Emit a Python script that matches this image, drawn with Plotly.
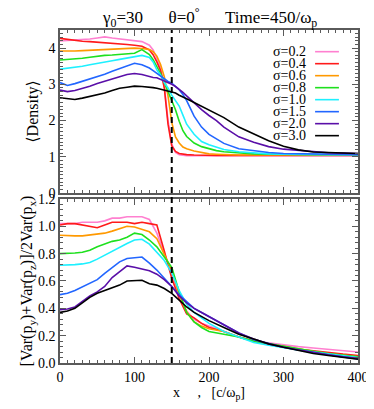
import plotly.graph_objects as go
from plotly.subplots import make_subplots

# sigma values and line colours
sigmas = ["0.2", "0.4", "0.6", "0.8", "1.0", "1.5", "2.0", "3.0"]
colors = ["#ff80d0", "#ff1a1a", "#ff9900", "#1ee01e", "#1ef0ff", "#2266ff", "#5a0fa8", "#000000"]

# top panel: <Density> vs x
x_top = [0, 10, 20, 30, 40, 50, 60, 70, 80, 90, 100, 110, 120, 125, 130, 135, 140, 145,
         150, 155, 160, 165, 170, 180, 190, 200, 210, 220, 240, 260, 280, 300, 320, 340,
         360, 380, 400]
dens_02 = [4.20, 4.21, 4.23, 4.22, 4.25, 4.28, 4.31, 4.28, 4.26, 4.24, 4.22, 4.18, 4.08, 3.95,
           3.72, 3.45, 2.95, 2.00, 1.35, 1.12, 1.06, 1.04, 1.03, 1.03, 1.03, 1.03, 1.03, 1.03,
           1.03, 1.03, 1.03, 1.03, 1.03, 1.03, 1.03, 1.03, 1.03]
dens_04 = [4.27, 4.24, 4.22, 4.19, 4.18, 4.16, 4.14, 4.13, 4.11, 4.10, 4.08, 4.05, 3.95, 3.82,
           3.62, 3.38, 2.90, 1.90, 1.30, 1.15, 1.09, 1.07, 1.06, 1.05, 1.04, 1.04, 1.04, 1.04,
           1.04, 1.04, 1.04, 1.04, 1.04, 1.04, 1.04, 1.04, 1.04]
dens_06 = [3.92, 3.91, 3.92, 3.93, 3.94, 3.95, 3.96, 3.97, 3.98, 3.99, 4.00, 3.99, 3.96, 3.90,
           3.78, 3.55, 3.21, 2.68, 1.95, 1.55, 1.38, 1.27, 1.22, 1.16, 1.11, 1.08, 1.07, 1.06,
           1.05, 1.05, 1.05, 1.05, 1.05, 1.05, 1.05, 1.05, 1.05]
dens_08 = [3.67, 3.68, 3.70, 3.72, 3.75, 3.78, 3.80, 3.81, 3.83, 3.84, 3.86, 3.96, 3.82, 3.68,
           3.50, 3.30, 3.05, 2.80, 2.60, 2.30, 1.98, 1.72, 1.56, 1.38, 1.28, 1.22, 1.17, 1.14,
           1.10, 1.08, 1.07, 1.06, 1.06, 1.06, 1.06, 1.06, 1.06]
dens_10 = [3.42, 3.44, 3.47, 3.50, 3.54, 3.57, 3.61, 3.65, 3.69, 3.73, 3.76, 3.80, 3.74, 3.62,
           3.40, 3.25, 3.05, 2.90, 2.70, 2.55, 2.40, 2.15, 1.90, 1.62, 1.42, 1.33, 1.26, 1.20,
           1.14, 1.10, 1.08, 1.07, 1.06, 1.06, 1.06, 1.06, 1.06]
dens_15 = [3.05, 2.97, 3.02, 3.08, 3.14, 3.21, 3.28, 3.36, 3.44, 3.51, 3.58, 3.54, 3.45, 3.38,
           3.30, 3.22, 3.15, 3.08, 3.03, 2.95, 2.85, 2.72, 2.55, 2.12, 1.82, 1.62, 1.50, 1.37,
           1.22, 1.16, 1.12, 1.09, 1.08, 1.07, 1.07, 1.06, 1.06]
dens_20 = [2.84, 2.80, 2.83, 2.88, 2.95, 3.02, 3.09, 3.15, 3.21, 3.27, 3.30, 3.27, 3.21, 3.19,
           3.18, 3.14, 3.10, 3.05, 3.00, 2.94, 2.87, 2.78, 2.68, 2.48, 2.30, 2.14, 2.00, 1.82,
           1.55, 1.40, 1.28, 1.21, 1.17, 1.13, 1.11, 1.10, 1.09]
dens_30 = [2.63, 2.60, 2.58, 2.62, 2.66, 2.70, 2.76, 2.83, 2.89, 2.92, 2.95, 2.94, 2.93, 2.91,
           2.89, 2.86, 2.84, 2.81, 2.79, 2.76, 2.70, 2.66, 2.60, 2.50, 2.40, 2.30, 2.20, 2.08,
           1.82, 1.62, 1.44, 1.29, 1.19, 1.13, 1.11, 1.10, 1.09]

# bottom panel: [Var(py)+Var(pz)]/2Var(px) vs x
x_bot = [0, 10, 20, 30, 40, 50, 60, 70, 80, 90, 100, 110, 120, 130, 140, 150, 160, 170, 180,
         190, 200, 220, 240, 260, 280, 300, 320, 340, 360, 380, 400]
anis_02 = [1.02, 1.02, 1.02, 1.03, 1.03, 1.03, 1.04, 1.06, 1.06, 1.07, 1.07, 1.07, 1.05, 0.95,
           0.80, 0.65, 0.48, 0.38, 0.32, 0.29, 0.27, 0.23, 0.19, 0.16, 0.145, 0.13, 0.12, 0.11,
           0.10, 0.09, 0.08]
anis_04 = [1.01, 1.02, 1.02, 1.01, 1.00, 0.99, 1.01, 1.03, 1.03, 1.03, 1.02, 1.03, 1.02, 1.01,
           0.82, 0.62, 0.47, 0.36, 0.33, 0.29, 0.26, 0.23, 0.19, 0.16, 0.14, 0.12, 0.10, 0.09,
           0.075, 0.065, 0.055]
anis_06 = [0.935, 0.93, 0.93, 0.93, 0.935, 0.94, 0.95, 0.965, 0.98, 1.00, 0.995, 0.975, 0.96,
           0.91, 0.80, 0.68, 0.50, 0.375, 0.30, 0.27, 0.25, 0.23, 0.19, 0.16, 0.14, 0.12, 0.10,
           0.085, 0.07, 0.055, 0.045]
anis_08 = [0.80, 0.80, 0.805, 0.81, 0.825, 0.85, 0.87, 0.89, 0.90, 0.92, 0.95, 0.94, 0.90, 0.85,
           0.775, 0.70, 0.52, 0.37, 0.30, 0.26, 0.23, 0.21, 0.19, 0.16, 0.14, 0.12, 0.10, 0.085,
           0.07, 0.055, 0.045]
anis_10 = [0.715, 0.715, 0.72, 0.725, 0.735, 0.76, 0.79, 0.82, 0.85, 0.875, 0.90, 0.905, 0.87,
           0.81, 0.75, 0.66, 0.53, 0.43, 0.37, 0.33, 0.29, 0.23, 0.19, 0.15, 0.13, 0.11, 0.095,
           0.08, 0.065, 0.05, 0.04]
anis_15 = [0.50, 0.51, 0.53, 0.555, 0.58, 0.61, 0.655, 0.70, 0.74, 0.765, 0.77, 0.775, 0.73,
           0.68, 0.62, 0.56, 0.50, 0.45, 0.40, 0.37, 0.34, 0.28, 0.22, 0.17, 0.14, 0.115, 0.095,
           0.075, 0.06, 0.045, 0.03]
anis_20 = [0.39, 0.395, 0.41, 0.45, 0.49, 0.52, 0.56, 0.625, 0.67, 0.71, 0.70, 0.69, 0.675,
           0.65, 0.61, 0.56, 0.49, 0.44, 0.40, 0.37, 0.34, 0.28, 0.22, 0.175, 0.14, 0.115, 0.095,
           0.075, 0.06, 0.045, 0.035]
anis_30 = [0.37, 0.38, 0.40, 0.44, 0.48, 0.51, 0.53, 0.555, 0.57, 0.60, 0.605, 0.605, 0.58,
           0.57, 0.545, 0.51, 0.46, 0.41, 0.37, 0.34, 0.31, 0.26, 0.21, 0.175, 0.14, 0.115,
           0.09, 0.07, 0.055, 0.04, 0.027]

dens_all = [dens_02, dens_04, dens_06, dens_08, dens_10, dens_15, dens_20, dens_30]
anis_all = [anis_02, anis_04, anis_06, anis_08, anis_10, anis_15, anis_20, anis_30]

FONT = "Liberation Serif, Times New Roman, DejaVu Serif, serif"
AXC = "#5a5a5a"

fig = make_subplots(rows=2, cols=1, shared_xaxes=True)

for s, c, d, a in zip(sigmas, colors, dens_all, anis_all):
    fig.add_trace(go.Scatter(x=x_top, y=d, mode="lines", line=dict(color=c, width=1.6),
                             name="σ=" + s), row=1, col=1)
    fig.add_trace(go.Scatter(x=x_bot, y=a, mode="lines", line=dict(color=c, width=1.6),
                             name="σ=" + s, showlegend=False), row=2, col=1)

axis_common = dict(showline=True, linecolor=AXC, linewidth=1.5, mirror="allticks",
                   ticks="inside", ticklen=6, tickcolor=AXC, showgrid=False, zeroline=False,
                   automargin=False,
                   tickfont=dict(family=FONT, size=14, color="black"))

fig.update_xaxes(range=[0, 400], dtick=100,
                 minor=dict(dtick=10, ticks="inside", ticklen=3, tickcolor=AXC),
                 **axis_common)
fig.update_xaxes(showticklabels=False, row=1, col=1)
fig.update_xaxes(title=dict(text="x\u2003 ,\u2002 [c/ω<sub>p</sub>]",
                            font=dict(family=FONT, size=14), standoff=4), row=2, col=1)

fig.update_yaxes(range=[0, 4.5], dtick=1,
                 minor=dict(dtick=0.1, ticks="inside", ticklen=3, tickcolor=AXC),
                 title=dict(text="⟨Density⟩", font=dict(family=FONT, size=16), standoff=6),
                 row=1, col=1, **axis_common)
fig.update_yaxes(range=[0, 1.2], dtick=0.2, tickformat=".1f",
                 minor=dict(dtick=0.04, ticks="inside", ticklen=3, tickcolor=AXC),
                 title=dict(text="[Var(p<sub>y</sub>)+Var(p<sub>z</sub>)]/2Var(p<sub>x</sub>)",
                            font=dict(family=FONT, size=16), standoff=1),
                 row=2, col=1, **axis_common)

# page body adds ~8px offset, so the figure is a bit smaller than the window
fig.update_layout(
    width=366, height=401,
    margin=dict(l=52, r=16, t=22, b=46),
    paper_bgcolor="white", plot_bgcolor="white",
    showlegend=False,
    font=dict(family=FONT, size=14, color="black"),
    xaxis=dict(domain=[0, 1]), xaxis2=dict(domain=[0, 1]),
    yaxis=dict(domain=[0.5105, 1.0]), yaxis2=dict(domain=[0.0, 0.4925]),
)

# title
fig.add_annotation(text="γ<sub>0</sub>=30\u2003\u2002θ=0<sup>°</sup>\u2003\u2002Time=450/ω<sub>p</sub>",
                   xref="paper", yref="paper", x=0.5, y=1.0, yshift=13,
                   xanchor="center", yanchor="middle", showarrow=False,
                   font=dict(family=FONT, size=17))

# dashed line at x=150 across both panels
fig.add_shape(type="line", xref="x", yref="paper", x0=150, x1=150, y0=0, y1=1,
              line=dict(color="black", width=2, dash="6px,4px"))

# legend: text followed by a line sample
for i, (s, c) in enumerate(zip(sigmas, colors)):
    yy = 0.867 - 0.0736 * i
    fig.add_annotation(text="σ=" + s, xref="x domain", yref="y domain", x=0.832, y=yy,
                       xanchor="right", yanchor="middle", showarrow=False,
                       font=dict(family=FONT, size=14))
    fig.add_shape(type="line", xref="x domain", yref="y domain", x0=0.856, x1=0.936,
                  y0=yy, y1=yy, line=dict(color=c, width=1.6))

fig.write_html("out.html")
